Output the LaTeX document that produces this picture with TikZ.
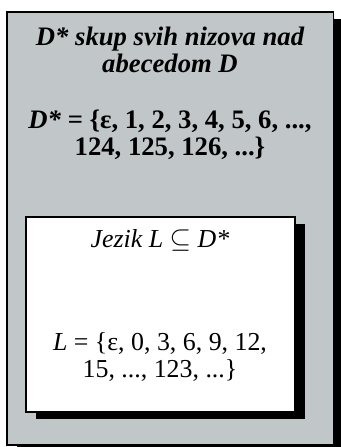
\documentclass[tikz,border=0pt]{standalone}
\usepackage{fontspec}
\setmainfont{Liberation Serif}
\usepackage{tikz}
\usetikzlibrary{positioning, shadows}
\definecolor{setGray}{RGB}{193, 198, 201}

\begin{document}
\begin{tikzpicture}[
    x=0.75pt, y=-0.75pt,
    box/.style={rectangle, draw=black, line width=1.2pt, inner sep=0pt, outer sep=0pt,
                anchor=north west,
                general shadow={fill=black, shadow xshift=7.5pt, shadow yshift=-5.25pt}},
    outertxt/.style={align=center, anchor=base, font=\fontsize{20}{20.25}\selectfont\bfseries},
    innertxt/.style={align=center, anchor=base, font=\fontsize{19.4}{20.25}\selectfont},
  ]
    \useasboundingbox (0,0) rectangle (341,447);

    % boxes
    \node[box, fill=setGray, minimum width=244.9pt, minimum height=324.6pt] (OUTER) at (7,12) {};
    \node[box, fill=white, minimum width=201.75pt, minimum height=146.25pt] (INNER) at (26,217) {};

    % D* texts (base = last line)
    \node[outertxt] (TITLE) at (170,72) {\itshape D* skup svih nizova nad\\\itshape abecedom D};
    \node[outertxt] (DSET) at (170,155) {\textit{D*} = \{ε, 1, 2, 3, 4, 5, 6, ...,\\124, 125, 126, ...\}};

    % language L
    \node[innertxt] (LNAME) at (160,247) {\textit{Jezik L} $\subseteq$ \textit{D*}};
    \node[innertxt] (LSET) at (160,377) {\textit{L} = \{ε, 0, 3, 6, 9, 12,\\15, ..., 123, ...\}};
  \end{tikzpicture}
\end{document}
